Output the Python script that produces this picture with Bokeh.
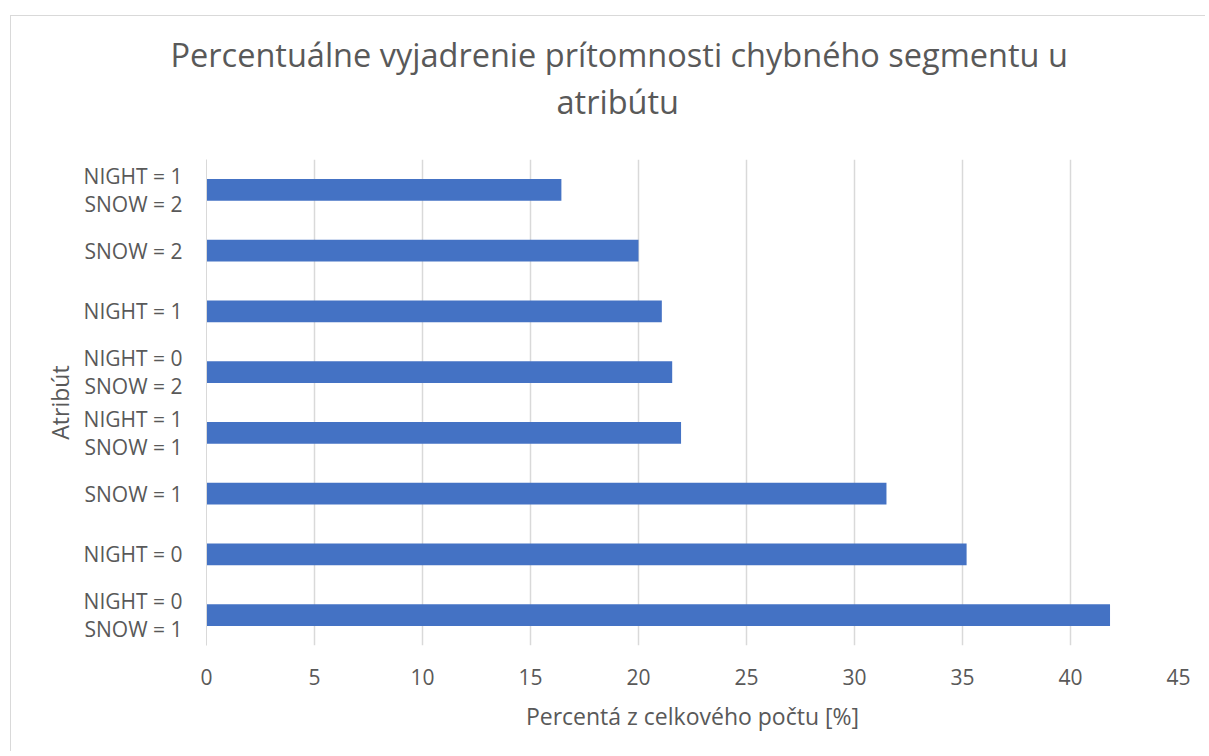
from bokeh.plotting import figure
from bokeh.models import ColumnDataSource, Title, FixedTicker, Range1d, FactorRange
from bokeh.embed import file_html
from bokeh.resources import INLINE

# categories listed top -> bottom as displayed
categories = [
    "NIGHT = 1\nSNOW = 2",
    "SNOW = 2",
    "NIGHT = 1",
    "NIGHT = 0\nSNOW = 2",
    "NIGHT = 1\nSNOW = 1",
    "SNOW = 1",
    "NIGHT = 0",
    "NIGHT = 0\nSNOW = 1",
]
percent = [16.43, 20.0, 21.08, 21.56, 21.97, 31.48, 35.19, 41.83]
x_ticks = [0, 5, 10, 15, 20, 25, 30, 35, 40, 45]

title_lines = ["Percentuálne vyjadrenie prítomnosti chybného segmentu u", "atribútu"]
x_label = "Percentá z celkového počtu [%]"
y_label = "Atribút"

FONT = "Open Sans"
TXT = "#595959"
GRID = "#d9d9d9"
BAR = "#4472C4"

factors = list(reversed(categories))
vals = list(reversed(percent))
src = ColumnDataSource(dict(cat=factors, val=vals))

p = figure(
    width=1195, height=736,
    y_range=FactorRange(*factors, range_padding=0),
    x_range=Range1d(0, 45),
    output_backend="svg", toolbar_location=None,
)
p.title = None
p.min_border_left = 195
p.min_border_right = 28
p.min_border_top = 143
p.min_border_bottom = 107
p.outline_line_color = None
p.background_fill_color = "white"
p.border_fill_color = "white"

p.hbar(y="cat", right="val", left=0, height=0.36, source=src,
       fill_color=BAR, line_color=None)

# x axis
p.xaxis.ticker = FixedTicker(ticks=x_ticks)
p.xaxis.axis_line_color = None
p.xaxis.major_tick_line_color = None
p.xaxis.minor_tick_line_color = None
p.xaxis.major_tick_out = 0
p.xaxis.major_label_standoff = 23
p.xaxis.major_label_text_font = FONT
p.xaxis.major_label_text_font_size = "21px"
p.xaxis.major_label_text_color = TXT
p.xaxis.axis_label = x_label
p.xaxis.axis_label_text_font = FONT
p.xaxis.axis_label_text_font_size = "23px"
p.xaxis.axis_label_text_font_style = "normal"
p.xaxis.axis_label_text_color = TXT
p.xaxis.axis_label_standoff = 12

# y axis
p.yaxis.axis_line_color = GRID
p.yaxis.axis_line_width = 1
p.yaxis.major_tick_line_color = None
p.yaxis.minor_tick_line_color = None
p.yaxis.major_tick_out = 0
p.yaxis.major_label_standoff = 24
p.yaxis.major_label_text_font = FONT
p.yaxis.major_label_text_font_size = "21px"
p.yaxis.major_label_text_color = TXT
p.yaxis.major_label_text_line_height = 1.02
p.yaxis.axis_label = y_label
p.yaxis.axis_label_text_font = FONT
p.yaxis.axis_label_text_font_size = "23px"
p.yaxis.axis_label_text_font_style = "normal"
p.yaxis.axis_label_text_color = TXT
p.yaxis.axis_label_standoff = 5

# grid
p.xgrid.grid_line_color = GRID
p.xgrid.grid_line_width = 1.5
p.ygrid.grid_line_color = None

# title: spacer nearest the frame, then line 2, then line 1
p.add_layout(Title(text=" ", text_font_size="1px", standoff=33), "above")
p.add_layout(Title(text=title_lines[1], align="left", offset=350, standoff=0,
                   text_font=FONT, text_font_size="32.5px", text_font_style="normal",
                   text_color=TXT), "above")
p.add_layout(Title(text=title_lines[0], align="left", offset=-36, standoff=0,
                   text_font=FONT, text_font_size="32.5px", text_font_style="normal",
                   text_color=TXT), "above")

p.styles = {
    "margin-left": "10px",
    "margin-top": "15px",
    "border-left": "1px solid #d9d9d9",
    "border-top": "1px solid #d9d9d9",
}

open("out.html", "w").write(file_html(p, INLINE))
